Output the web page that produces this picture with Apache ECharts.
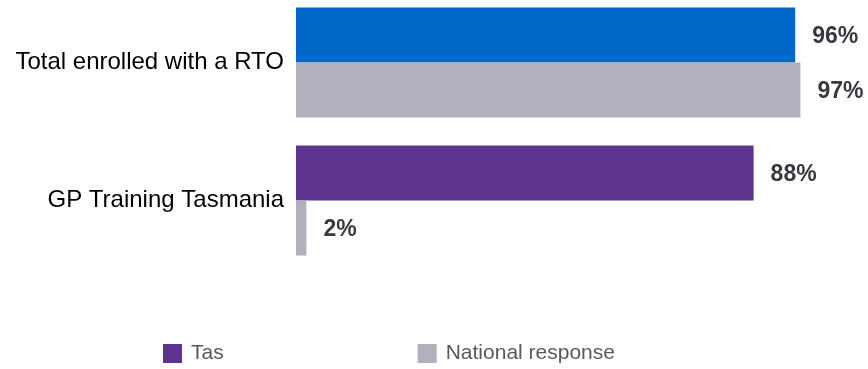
<!DOCTYPE html>
<html>
<head>
<meta charset="utf-8">
<style>
  html, body { margin: 0; padding: 0; background: #ffffff; }
  #chart { width: 868px; height: 369px; }
</style>
<script src="https://cdn.jsdelivr.net/npm/echarts@6/dist/echarts.min.js"></script>
</head>
<body>
<div id="chart"></div>
<script>
const categories = ['Total enrolled with a RTO', 'GP Training Tasmania'];
const seriesNames = ['Tas', 'National response'];
const tasValues = [96, 88];
const nationalValues = [97, 2];
const tasColors = ['#0068C9', '#5C338E'];
const nationalColor = '#B1B0BD';

const chart = echarts.init(document.getElementById('chart'), null, { renderer: 'canvas' });

const labelStyle = {
  show: true,
  position: 'right',
  distance: 17,
  offset: [0, 1.5],
  formatter: '{c}%',
  fontFamily: 'Liberation Sans, Arial, sans-serif',
  fontSize: 23,
  fontWeight: 'bold',
  color: '#383840'
};

chart.setOption({
  animation: false,
  backgroundColor: '#ffffff',
  grid: { left: 296, right: 52, top: -6.5, bottom: 99.5, containLabel: false, outerBoundsMode: 'none' },
  xAxis: {
    type: 'value', min: 0, max: 100,
    show: false
  },
  yAxis: {
    type: 'category',
    inverse: true,
    data: categories,
    axisLine: { show: false },
    axisTick: { show: false },
    axisLabel: {
      margin: 12,
      fontFamily: 'Liberation Sans, Arial, sans-serif',
      fontSize: 24,
      color: '#000000'
    }
  },
  legend: {
    data: seriesNames,
    left: 163,
    top: 343,
    padding: 0,
    itemWidth: 19,
    itemHeight: 19,
    itemGap: 194,
    icon: 'rect',
    textStyle: {
      fontFamily: 'Liberation Sans, Arial, sans-serif',
      fontSize: 21,
      color: '#595959',
      padding: [0, 0, 0, 4]
    }
  },
  series: [
    {
      name: seriesNames[0],
      type: 'bar',
      barWidth: 55,
      barGap: '0%',
      itemStyle: { color: tasColors[1] },
      label: labelStyle,
      data: tasValues.map((v, i) => ({ value: v, itemStyle: { color: tasColors[i] } }))
    },
    {
      name: seriesNames[1],
      type: 'bar',
      barWidth: 55,
      barGap: '0%',
      itemStyle: { color: nationalColor },
      label: labelStyle,
      data: nationalValues
    }
  ]
});
</script>
</body>
</html>
